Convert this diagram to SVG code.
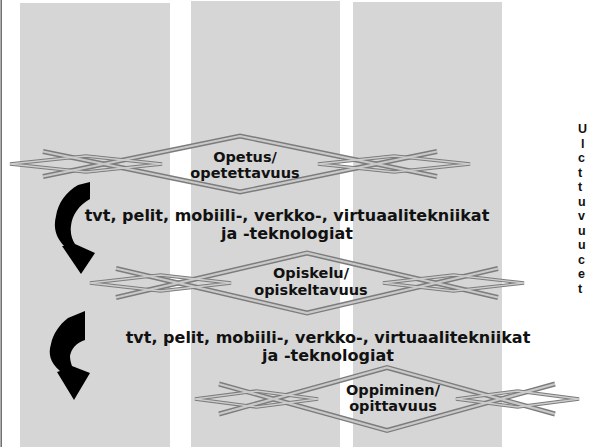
<svg xmlns="http://www.w3.org/2000/svg" width="593" height="447" viewBox="0 0 593 447">
  <style>
    .col { fill: #d6d6d6; }
    .strip-o { fill: none; stroke: #7c7c7c; stroke-width: 5; stroke-linejoin: miter; }
    .strip-i { fill: none; stroke: #c9c9c9; stroke-width: 2.2; stroke-linejoin: miter; }
    .loz-o { fill: none; stroke: #7c7c7c; stroke-width: 3.4; }
    .loz-i { fill: none; stroke: #cdcdcd; stroke-width: 1.3; }
    .lbl { font-family: "DejaVu Sans", Verdana, sans-serif; font-weight: bold; font-size: 14.5px; fill: #111; text-anchor: middle; }
    .body { font-family: "DejaVu Sans", Verdana, sans-serif; font-weight: bold; font-size: 16px; fill: #111; text-anchor: middle; }
    .side { font-family: "Liberation Sans", Arial, sans-serif; font-weight: bold; font-size: 12.5px; fill: #111; }
    .arrow { fill: #000; }
  </style>

  <rect width="593" height="447" fill="#ffffff"/>

  <!-- background columns -->
  <rect class="col" x="20" y="3" width="150" height="444"/>
  <rect class="col" x="191" y="1" width="149" height="446"/>
  <rect class="col" x="353" y="2" width="149" height="445"/>
  <line x1="1.2" y1="0" x2="1.2" y2="447" stroke="#6a6a6a" stroke-width="1.5"/>

  <!-- connectors: curved arrows -->
  <g id="connectors">
    <path class="arrow" d="M78,185 L90,182 L90,199 C79,205 72,215 71,226 C70,233 72,239 75,244 L95,253 L81,274 L62,246 L64,246 C56,237 53,228 56,216 C58,203 66,192 78,185 Z"/>
    <path class="arrow" d="M68,318 L85,311 L85,340 C76,343 71,349 70,356 C70,360 71,363 72,366 L90,373 L74,400 L57,372 L60,371 C50,362 48,354 51,344 C53,334 59,325 68,318 Z"/>
  </g>

  <!-- node: Opetus -->
  <g id="node-opetus">
    <polyline class="strip-o" points="43,176.5 240,136 437,176.5"/>
    <polyline class="strip-o" points="43,151.5 240,192 437,151.5"/>
    <polygon class="loz-o" points="318,164 394,156 470,164 394,172"/>
    <polygon class="loz-o" points="10,164 86,156 162,164 86,172"/>
    <polyline class="strip-i" points="43,176.5 240,136 437,176.5"/>
    <polyline class="strip-i" points="43,151.5 240,192 437,151.5"/>
    <polygon class="loz-i" points="318,164 394,156 470,164 394,172"/>
    <polygon class="loz-i" points="10,164 86,156 162,164 86,172"/>
    <text class="lbl" x="245" y="162">Opetus/</text>
    <text class="lbl" x="245" y="178">opetettavuus</text>
  </g>

  <!-- node: Opiskelu -->
  <g id="node-opiskelu">
    <polyline class="strip-o" points="116,297.5 307,253 498,297.5"/>
    <polyline class="strip-o" points="116,268.5 307,313 498,268.5"/>
    <polygon class="loz-o" points="383,283 453.5,275 524,283 453.5,291"/>
    <polygon class="loz-o" points="90,283 160.5,275 231,283 160.5,291"/>
    <polyline class="strip-i" points="116,297.5 307,253 498,297.5"/>
    <polyline class="strip-i" points="116,268.5 307,313 498,268.5"/>
    <polygon class="loz-i" points="383,283 453.5,275 524,283 453.5,291"/>
    <polygon class="loz-i" points="90,283 160.5,275 231,283 160.5,291"/>
    <text class="lbl" x="311" y="278">Opiskelu/</text>
    <text class="lbl" x="311" y="295">opiskeltavuus</text>
  </g>

  <!-- node: Oppiminen -->
  <g id="node-oppiminen">
    <polyline class="strip-o" points="219,414 387,367.5 555,414"/>
    <polyline class="strip-o" points="219,384 387,430.5 555,384"/>
    <polygon class="loz-o" points="456,399 517.5,391 579,399 517.5,407"/>
    <polygon class="loz-o" points="195,399 256.5,391 318,399 256.5,407"/>
    <polyline class="strip-i" points="219,414 387,367.5 555,414"/>
    <polyline class="strip-i" points="219,384 387,430.5 555,384"/>
    <polygon class="loz-i" points="456,399 517.5,391 579,399 517.5,407"/>
    <polygon class="loz-i" points="195,399 256.5,391 318,399 256.5,407"/>
    <text class="lbl" x="393" y="395">Oppiminen/</text>
    <text class="lbl" x="393" y="411">opittavuus</text>
  </g>

  <!-- technology labels between the stages -->
  <g id="tech-1">
    <text class="body" x="287" y="221">tvt, pelit, mobiili-, verkko-, virtuaalitekniikat</text>
    <text class="body" x="287" y="239">ja -teknologiat</text>
  </g>
  <g id="tech-2">
    <text class="body" x="328" y="343">tvt, pelit, mobiili-, verkko-, virtuaalitekniikat</text>
    <text class="body" x="328" y="361">ja -teknologiat</text>
  </g>

  <!-- side text column, clipped at the right edge -->
  <g id="side-text">
    <text class="side" x="578" y="133">U</text>
    <text class="side" x="581" y="147.5">l</text>
    <text class="side" x="578" y="162">c</text>
    <text class="side" x="578" y="176.5">t</text>
    <text class="side" x="578" y="191">t</text>
    <text class="side" x="578" y="205.5">u</text>
    <text class="side" x="578" y="220">v</text>
    <text class="side" x="578" y="234.5">u</text>
    <text class="side" x="578" y="249">u</text>
    <text class="side" x="578" y="263.5">c</text>
    <text class="side" x="578" y="278">e</text>
    <text class="side" x="578" y="292.5">t</text>
  </g>
</svg>
